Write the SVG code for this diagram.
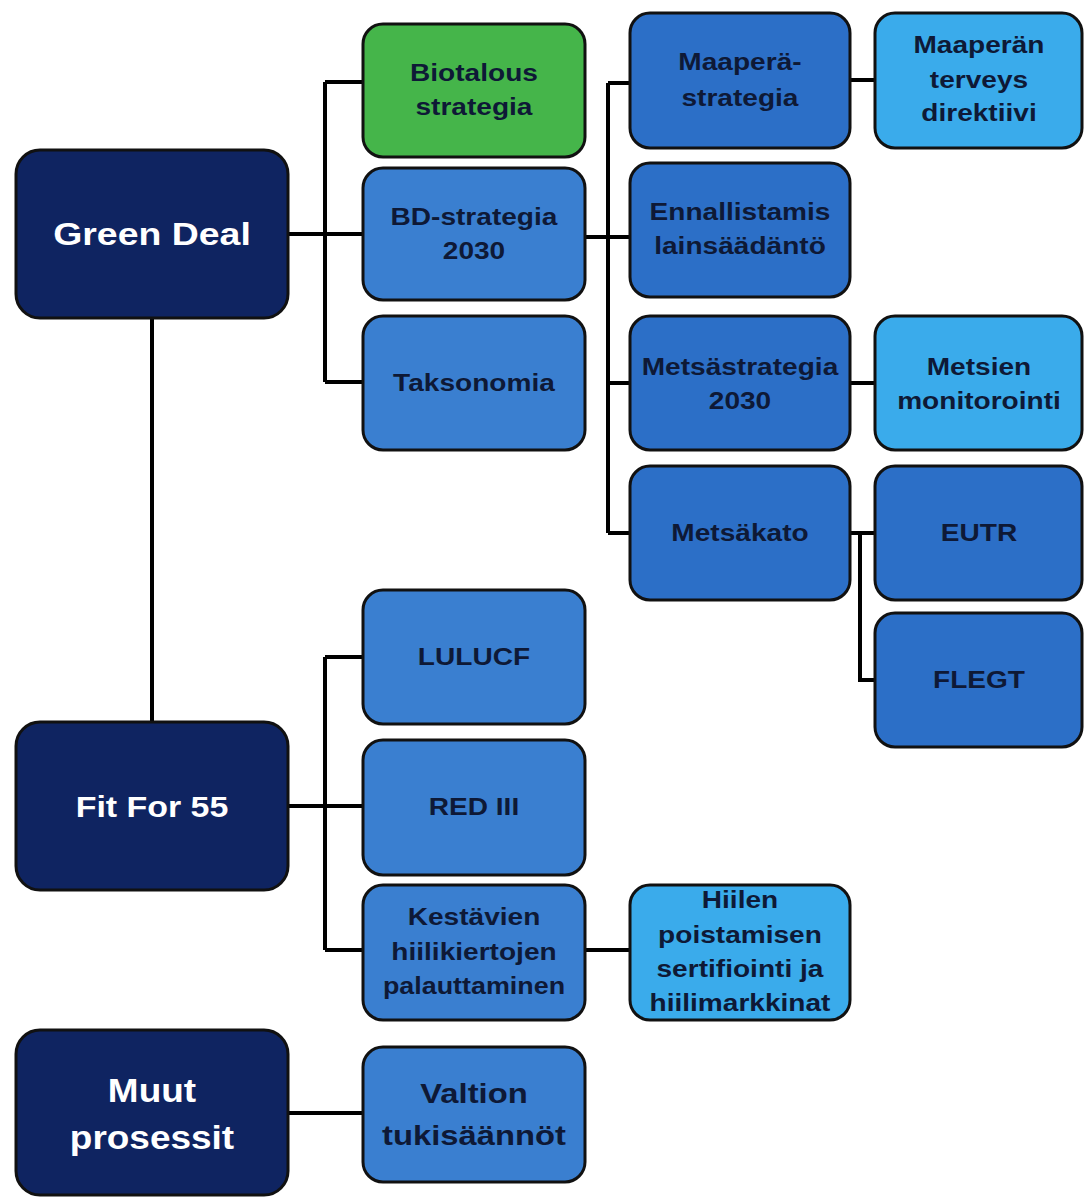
<svg xmlns="http://www.w3.org/2000/svg" width="1084" height="1197" viewBox="0 0 1084 1197">
<style>
.n rect{stroke:#111;stroke-width:3}
.top rect{fill:#0f2461}
.c2 rect{fill:#3a7fd0}
.c3 rect{fill:#2c6fc7}
.lt rect{fill:#3aabeb}
.gr rect{fill:#45b54a}
text{font-family:"Liberation Sans",Arial,sans-serif;font-weight:bold;text-anchor:middle;fill:#0e1936;font-size:24px;transform-box:fill-box;transform-origin:center;transform:scaleX(1.17)}
.top text{fill:#fff;font-size:32px}
#conn path{fill:none;stroke:#000;stroke-width:4}
</style>
<rect width="1084" height="1197" fill="#fff"/>
<g id="conn">
<path d="M288 234H363M325 82V382M325 82H363M325 382H363"/>
<path d="M152 318V722"/>
<path d="M585 237H608M608 83V533M608 83H630M608 237H630M608 383H630M608 533H630"/>
<path d="M850 80H875M850 383H875M850 533H875M860 533V680H875"/>
<path d="M288 806H363M325 657V950M325 657H363M325 950H363"/>
<path d="M585 950H630"/>
<path d="M288 1113H363"/>
</g>
<g id="greendeal" class="n top"><rect x="16" y="150" width="272" height="168" rx="24"/><text x="152" y="245">Green Deal</text></g>
<g id="fitfor55" class="n top"><rect x="16" y="722" width="272" height="168" rx="24"/><text x="152" y="817" style="font-size:29px">Fit For 55</text></g>
<g id="muut" class="n top"><rect x="16" y="1030" width="272" height="165" rx="24"/><text x="152" y="1102" style="font-size:33px;transform:scaleX(1.12)">Muut</text><text x="152" y="1149" style="font-size:33px;transform:scaleX(1.12)">prosessit</text></g>
<g id="biotalous" class="n gr"><rect x="363" y="24" width="222" height="133" rx="20"/><text x="474" y="81">Biotalous</text><text x="474" y="115">strategia</text></g>
<g id="bd" class="n c2"><rect x="363" y="168" width="222" height="132" rx="20"/><text x="474" y="225">BD-strategia</text><text x="474" y="259">2030</text></g>
<g id="taksonomia" class="n c2"><rect x="363" y="316" width="222" height="134" rx="20"/><text x="474" y="391">Taksonomia</text></g>
<g id="lulucf" class="n c2"><rect x="363" y="590" width="222" height="134" rx="20"/><text x="474" y="665">LULUCF</text></g>
<g id="red" class="n c2"><rect x="363" y="740" width="222" height="135" rx="20"/><text x="474" y="815">RED III</text></g>
<g id="kestavien" class="n c2"><rect x="363" y="885" width="222" height="135" rx="20"/><text x="474" y="925">Kestävien</text><text x="474" y="960">hiilikiertojen</text><text x="474" y="994" style="transform:scaleX(1.12)">palauttaminen</text></g>
<g id="valtion" class="n c2"><rect x="363" y="1047" width="222" height="135" rx="20"/><text x="474" y="1103" style="font-size:28px">Valtion</text><text x="474" y="1145" style="font-size:28px">tukisäännöt</text></g>
<g id="maapera" class="n c3"><rect x="630" y="13" width="220" height="135" rx="20"/><text x="740" y="70">Maaperä-</text><text x="740" y="106">strategia</text></g>
<g id="ennallistamis" class="n c3"><rect x="630" y="163" width="220" height="134" rx="20"/><text x="740" y="220">Ennallistamis</text><text x="740" y="254">lainsäädäntö</text></g>
<g id="metsastrategia" class="n c3"><rect x="630" y="316" width="220" height="134" rx="20"/><text x="740" y="375">Metsästrategia</text><text x="740" y="409">2030</text></g>
<g id="metsakato" class="n c3"><rect x="630" y="466" width="220" height="134" rx="20"/><text x="740" y="541">Metsäkato</text></g>
<g id="hiilen" class="n lt"><rect x="630" y="885" width="220" height="135" rx="20"/><text x="740" y="908">Hiilen</text><text x="740" y="943">poistamisen</text><text x="740" y="977">sertifiointi ja</text><text x="740" y="1011">hiilimarkkinat</text></g>
<g id="maaperan" class="n lt"><rect x="875" y="13" width="207" height="135" rx="20"/><text x="979" y="53">Maaperän</text><text x="979" y="88">terveys</text><text x="979" y="121">direktiivi</text></g>
<g id="metsien" class="n lt"><rect x="875" y="316" width="207" height="134" rx="20"/><text x="979" y="375">Metsien</text><text x="979" y="409">monitorointi</text></g>
<g id="eutr" class="n c3"><rect x="875" y="466" width="207" height="134" rx="20"/><text x="979" y="541">EUTR</text></g>
<g id="flegt" class="n c3"><rect x="875" y="613" width="207" height="134" rx="20"/><text x="979" y="688">FLEGT</text></g>
</svg>
